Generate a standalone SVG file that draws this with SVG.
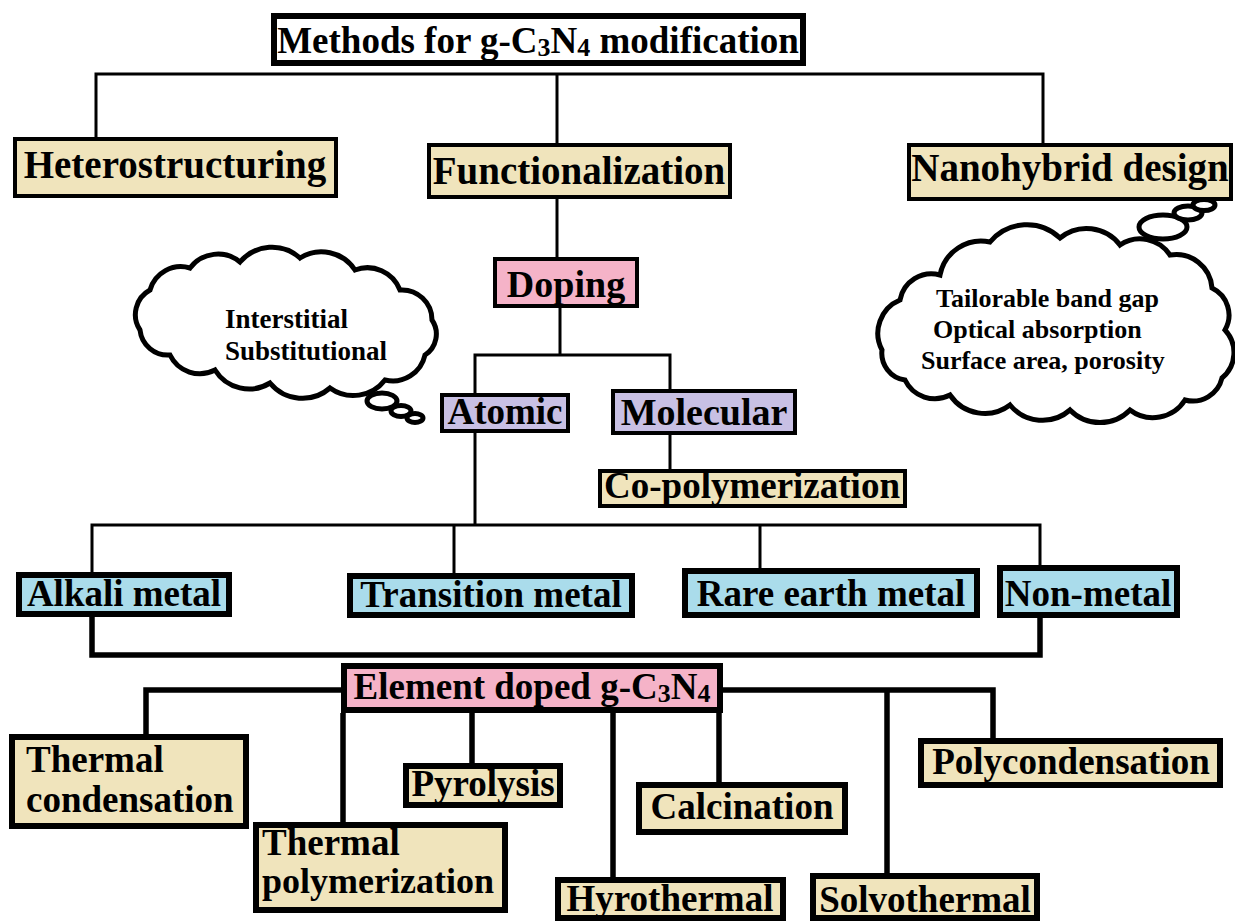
<svg xmlns="http://www.w3.org/2000/svg" width="1235" height="924" viewBox="0 0 1235 924">
<style>
.t{font-family:"Liberation Serif","Times New Roman",serif;font-weight:bold;fill:#000;text-anchor:middle}
.l{text-anchor:start}
.c{font-size:26px;text-anchor:start}
.m{font-size:37px}
.sub{font-size:26px}
.b4{stroke:#000;stroke-width:4}
.b6{stroke:#000;stroke-width:6}
.beige{fill:#F0E4BC}
.pink{fill:#F5B3C8}
.lav{fill:#C8C0E4}
.blue{fill:#AADCEB}
.thin{fill:none;stroke:#000;stroke-width:3}
.thick{fill:none;stroke:#000;stroke-width:5.5}
.cloud{fill:#fff;stroke:#000;stroke-width:5}
</style>
<rect width="1235" height="924" fill="#fff"/>
<g id="connectors">
<path class="thin" d="M96,137 V74 H1043 V143"/>
<path class="thin" d="M557,74 V143"/>
<path class="thin" d="M557,199 V257"/>
<path class="thin" d="M560,308 V355"/>
<path class="thin" d="M475,393 V355 H670 V389"/>
<path class="thin" d="M670,435 V469"/>
<path class="thin" d="M475,433 V525"/>
<path class="thin" d="M92,572 V525 H1040 V565"/>
<path class="thin" d="M454,525 V573"/>
<path class="thin" d="M760,525 V568"/>
<path class="thick" d="M92,617 V655 H1040 V618"/>
<path class="thick" d="M341,690 H146 V734"/>
<path class="thick" d="M723,690 H993 V738"/>
<path class="thick" d="M887,690 V873"/>
<path class="thick" d="M343,713 V822"/>
<path class="thick" d="M472,713 V763"/>
<path class="thick" d="M613,713 V877"/>
<path class="thick" d="M719,713 V782"/>
</g>
<g id="title">
<rect x="274" y="16" width="529" height="47" fill="#fff" class="b6"/>
<text class="t" x="538" y="53" font-size="37">Methods for g-C<tspan class="sub" dy="3">3</tspan><tspan dy="-3">N</tspan><tspan class="sub" dy="3">4</tspan><tspan dy="-3"> modification</tspan></text>
</g>
<g id="heterostructuring">
<rect x="15" y="139" width="321" height="57" class="beige b4"/>
<text class="t" x="175" y="178" font-size="39">Heterostructuring</text>
</g>
<g id="functionalization">
<rect x="429" y="145" width="301" height="52" class="beige b4"/>
<text class="t" x="579" y="184" font-size="39">Functionalization</text>
</g>
<g id="nanohybrid">
<rect x="909" y="145" width="322" height="54" class="beige b4"/>
<text class="t" x="1070" y="181" font-size="39">Nanohybrid design</text>
</g>
<g id="cloud-left">
<path class="cloud" d="M140,330 A28,28 0 0,1 150,290 A32,32 0 0,1 190,268 A35,35 0 0,1 240,262 A42,42 0 0,1 300,258 A40,40 0 0,1 355,270 A35,35 0 0,1 400,290 A30,30 0 0,1 432,320 A25,25 0 0,1 425,355 A33,33 0 0,1 385,380 A40,40 0 0,1 330,388 A42,42 0 0,1 270,383 A40,40 0 0,1 215,370 A33,33 0 0,1 170,355 A28,28 0 0,1 140,330 Z"/>
<ellipse class="cloud" cx="382" cy="401" rx="15" ry="8" stroke-width="4"/>
<ellipse class="cloud" cx="401" cy="411" rx="10" ry="5.5" stroke-width="4"/>
<ellipse class="cloud" cx="415" cy="418" rx="8" ry="4.5" stroke-width="4"/>
<text class="t c" x="225" y="328" font-size="27" style="font-size:27px">Interstitial</text>
<text class="t c" x="225" y="360" style="font-size:27px">Substitutional</text>
</g>
<g id="cloud-right">
<path class="cloud" d="M882,350 A36,36 0 0,1 900,300 A32,32 0 0,1 940,275 A42,42 0 0,1 990,242 A48,48 0 0,1 1060,238 A42,42 0 0,1 1120,245 A36,36 0 0,1 1170,255 A36,36 0 0,1 1212,288 A30,30 0 0,1 1225,330 A33,33 0 0,1 1222,378 A30,30 0 0,1 1185,400 A38,38 0 0,1 1130,410 A42,42 0 0,1 1070,410 A42,42 0 0,1 1010,405 A42,42 0 0,1 950,395 A33,33 0 0,1 905,380 A27,27 0 0,1 882,350 Z"/>
<ellipse class="cloud" cx="1163" cy="227" rx="24" ry="12" stroke-width="4"/>
<ellipse class="cloud" cx="1188" cy="213" rx="14" ry="7" stroke-width="4"/>
<ellipse class="cloud" cx="1204" cy="205" rx="11" ry="5.5" stroke-width="4"/>
<text class="t c" x="936" y="307">Tailorable band gap</text>
<text class="t c" x="933" y="338">Optical absorption</text>
<text class="t c" x="921" y="369">Surface area, porosity</text>
</g>
<g id="doping">
<rect x="495" y="259" width="142" height="47" class="pink b4"/>
<text class="t" x="566" y="297" font-size="38">Doping</text>
</g>
<g id="atomic">
<rect x="442" y="395" width="126" height="36" class="lav b4"/>
<text class="t" x="505" y="424" font-size="37">Atomic</text>
</g>
<g id="molecular">
<rect x="613" y="391" width="182" height="42" class="lav b4"/>
<text class="t" x="704" y="425" font-size="38">Molecular</text>
</g>
<g id="copolymerization">
<rect x="600" y="471" width="305" height="35" class="beige b4"/>
<text class="t" x="752" y="498" font-size="37">Co-polymerization</text>
</g>
<g id="alkali">
<rect x="19" y="575" width="210" height="39" class="blue b6"/>
<text class="t m" x="124" y="606">Alkali metal</text>
</g>
<g id="transition">
<rect x="350" y="576" width="282" height="39" class="blue b6"/>
<text class="t m" x="491" y="607">Transition metal</text>
</g>
<g id="rare-earth">
<rect x="685" y="571" width="292" height="44" class="blue b6"/>
<text class="t m" x="831" y="606">Rare earth metal</text>
</g>
<g id="non-metal">
<rect x="1000" y="568" width="177" height="47" class="blue b6"/>
<text class="t m" x="1088" y="606">Non-metal</text>
</g>
<g id="element-doped">
<rect x="344" y="666" width="376" height="44" class="pink b6"/>
<text class="t m" x="532" y="699">Element doped g-C<tspan class="sub" dy="3">3</tspan><tspan dy="-3">N</tspan><tspan class="sub" dy="3">4</tspan></text>
</g>
<g id="thermal-condensation">
<rect x="12" y="737" width="234" height="89" class="beige b6"/>
<text class="t m l" x="26" y="772">Thermal</text>
<text class="t m l" x="26" y="812">condensation</text>
</g>
<g id="thermal-polymerization">
<rect x="256" y="825" width="249" height="85" class="beige b6"/>
<text class="t m l" x="262" y="855">Thermal</text>
<text class="t m l" x="262" y="893" style="font-size:36px">polymerization</text>
</g>
<g id="pyrolysis">
<rect x="406" y="766" width="154" height="39" class="beige b6"/>
<text class="t m" x="483" y="796">Pyrolysis</text>
</g>
<g id="hyrothermal">
<rect x="558" y="880" width="225" height="38" class="beige b6"/>
<text class="t m" x="670" y="911">Hyrothermal</text>
</g>
<g id="calcination">
<rect x="639" y="785" width="206" height="47" class="beige b6"/>
<text class="t m" x="742" y="819">Calcination</text>
</g>
<g id="solvothermal">
<rect x="813" y="876" width="224" height="42" class="beige b6"/>
<text class="t m" x="925" y="912">Solvothermal</text>
</g>
<g id="polycondensation">
<rect x="921" y="741" width="299" height="44" class="beige b6"/>
<text class="t m" x="1071" y="774">Polycondensation</text>
</g>
</svg>
